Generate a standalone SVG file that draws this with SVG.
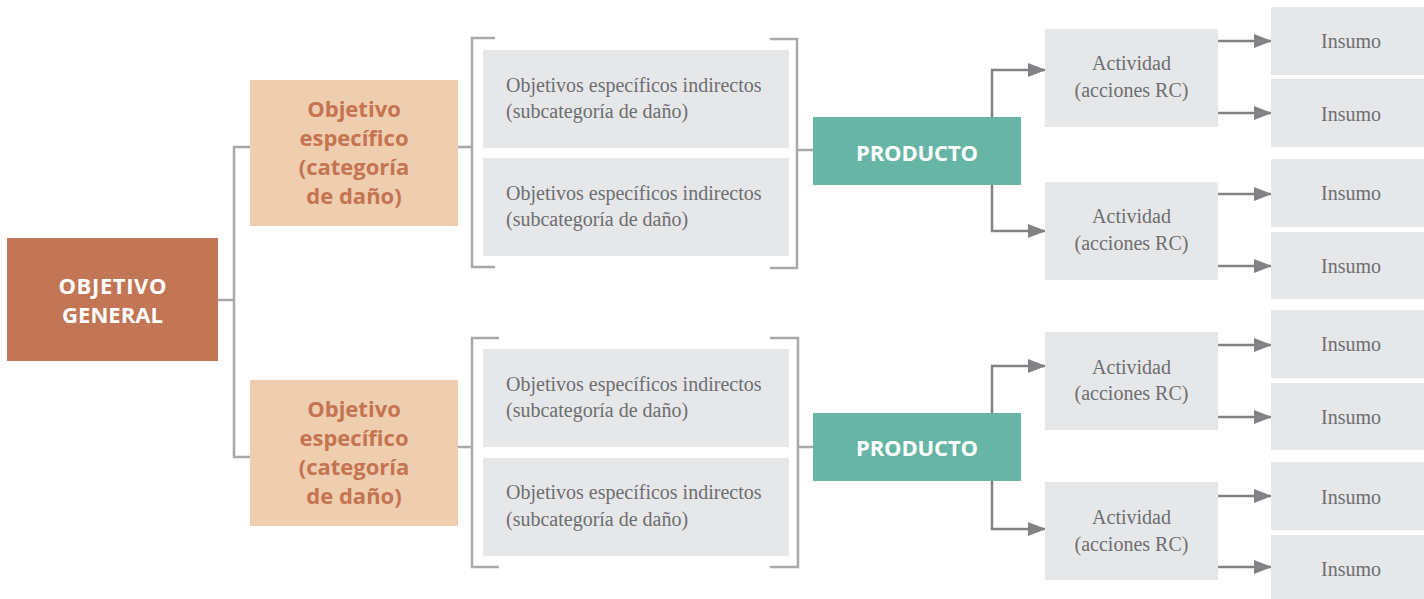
<svg xmlns="http://www.w3.org/2000/svg" width="1424" height="599" viewBox="0 0 1424 599">
<style>
.gen{fill:#C27656}
.spec{fill:#EFCDAF}
.grey{fill:#E6E7E8}
.prod{fill:#67B5A4}
.tw{font-family:"Open Sans","Noto Sans",sans-serif;font-weight:bold;fill:#FFFFFF;text-anchor:middle;font-size:22px}
.ts{font-family:"Open Sans","Noto Sans",sans-serif;font-weight:bold;fill:#C47451;text-anchor:middle;font-size:22px}
.tg{font-family:"Liberation Serif","DejaVu Serif",serif;fill:#6D6E71;font-size:20px}
.tc{text-anchor:middle}
.br{fill:none;stroke:#A7A9AC;stroke-width:2.5}
.ar{fill:none;stroke:#808285;stroke-width:2.5}
</style>
<defs>
<marker id="ah" markerUnits="userSpaceOnUse" markerWidth="18" markerHeight="14" refX="17" refY="7" orient="auto">
<path d="M0,0 L18,7 L0,14 Z" fill="#808285"/>
</marker>
</defs>
<g id="connectors">
<path class="br" d="M218,300 H234 M250,147 H234 V457 H250"/>
<path class="br" d="M458,147 H472 M495,38 H472 V267 H495 M770,39 H797 V268 H770 M797,150 H813"/>
<path class="br" d="M458,447 H472 M499,338 H472 V567 H499 M770,338 H798 V567 H770 M798,447 H813"/>
<path class="ar" marker-end="url(#ah)" d="M992,117 V70 H1045"/>
<path class="ar" marker-end="url(#ah)" d="M992,185 V231 H1045"/>
<path class="ar" marker-end="url(#ah)" d="M992,413 V366 H1045"/>
<path class="ar" marker-end="url(#ah)" d="M992,481 V529 H1045"/>
<path class="ar" marker-end="url(#ah)" d="M1218,41 H1271"/>
<path class="ar" marker-end="url(#ah)" d="M1218,113 H1271"/>
<path class="ar" marker-end="url(#ah)" d="M1218,194 H1271"/>
<path class="ar" marker-end="url(#ah)" d="M1218,266 H1271"/>
<path class="ar" marker-end="url(#ah)" d="M1218,345 H1271"/>
<path class="ar" marker-end="url(#ah)" d="M1218,417 H1271"/>
<path class="ar" marker-end="url(#ah)" d="M1218,496 H1271"/>
<path class="ar" marker-end="url(#ah)" d="M1218,567 H1271"/>
</g>
<g id="objetivo-general">
<rect class="gen" x="7" y="238" width="211" height="123"/>
<text class="tw" x="112.5" y="294" textLength="108" lengthAdjust="spacing">OBJETIVO</text>
<text class="tw" x="112.5" y="323" textLength="101" lengthAdjust="spacing">GENERAL</text>
</g>
<g id="especifico-1">
<rect class="spec" x="250" y="80" width="208" height="146"/>
<text class="ts" x="354" y="117">Objetivo</text>
<text class="ts" x="354" y="146">específico</text>
<text class="ts" x="354" y="175">(categoría</text>
<text class="ts" x="354" y="204">de daño)</text>
</g>
<g id="especifico-2">
<rect class="spec" x="250" y="380" width="208" height="146"/>
<text class="ts" x="354" y="417">Objetivo</text>
<text class="ts" x="354" y="446">específico</text>
<text class="ts" x="354" y="475">(categoría</text>
<text class="ts" x="354" y="504">de daño)</text>
</g>
<g id="indirecto-1">
<rect class="grey" x="483" y="50" width="306" height="98"/>
<text class="tg" x="506" y="92">Objetivos específicos indirectos</text>
<text class="tg" x="506" y="118">(subcategoría de daño)</text>
</g>
<g id="indirecto-2">
<rect class="grey" x="483" y="158" width="306" height="98"/>
<text class="tg" x="506" y="200">Objetivos específicos indirectos</text>
<text class="tg" x="506" y="226">(subcategoría de daño)</text>
</g>
<g id="indirecto-3">
<rect class="grey" x="483" y="349" width="306" height="98"/>
<text class="tg" x="506" y="391">Objetivos específicos indirectos</text>
<text class="tg" x="506" y="417">(subcategoría de daño)</text>
</g>
<g id="indirecto-4">
<rect class="grey" x="483" y="458" width="306" height="98"/>
<text class="tg" x="506" y="499">Objetivos específicos indirectos</text>
<text class="tg" x="506" y="526">(subcategoría de daño)</text>
</g>
<g id="producto-1">
<rect class="prod" x="813" y="117" width="208" height="68"/>
<text class="tw" x="917" y="161" textLength="122" lengthAdjust="spacing">PRODUCTO</text>
</g>
<g id="producto-2">
<rect class="prod" x="813" y="413" width="208" height="68"/>
<text class="tw" x="917" y="456" textLength="122" lengthAdjust="spacing">PRODUCTO</text>
</g>
<g id="actividad-1">
<rect class="grey" x="1045" y="29" width="173" height="98"/>
<text class="tg tc" x="1131.5" y="70">Actividad</text>
<text class="tg tc" x="1131.5" y="97">(acciones RC)</text>
</g>
<g id="actividad-2">
<rect class="grey" x="1045" y="182" width="173" height="98"/>
<text class="tg tc" x="1131.5" y="223">Actividad</text>
<text class="tg tc" x="1131.5" y="250">(acciones RC)</text>
</g>
<g id="actividad-3">
<rect class="grey" x="1045" y="332" width="173" height="98"/>
<text class="tg tc" x="1131.5" y="374">Actividad</text>
<text class="tg tc" x="1131.5" y="400">(acciones RC)</text>
</g>
<g id="actividad-4">
<rect class="grey" x="1045" y="482" width="173" height="98"/>
<text class="tg tc" x="1131.5" y="524">Actividad</text>
<text class="tg tc" x="1131.5" y="551">(acciones RC)</text>
</g>
<g id="insumo-1"><rect class="grey" x="1271" y="7" width="153" height="68"/><text class="tg tc" x="1351" y="48">Insumo</text></g>
<g id="insumo-2"><rect class="grey" x="1271" y="79" width="153" height="68"/><text class="tg tc" x="1351" y="121">Insumo</text></g>
<g id="insumo-3"><rect class="grey" x="1271" y="159" width="153" height="68"/><text class="tg tc" x="1351" y="200">Insumo</text></g>
<g id="insumo-4"><rect class="grey" x="1271" y="232" width="153" height="67"/><text class="tg tc" x="1351" y="273">Insumo</text></g>
<g id="insumo-5"><rect class="grey" x="1271" y="310" width="153" height="68"/><text class="tg tc" x="1351" y="351">Insumo</text></g>
<g id="insumo-6"><rect class="grey" x="1271" y="383" width="153" height="67"/><text class="tg tc" x="1351" y="424">Insumo</text></g>
<g id="insumo-7"><rect class="grey" x="1271" y="462" width="153" height="68"/><text class="tg tc" x="1351" y="504">Insumo</text></g>
<g id="insumo-8"><rect class="grey" x="1271" y="535" width="153" height="64"/><text class="tg tc" x="1351" y="576">Insumo</text></g>
</svg>
